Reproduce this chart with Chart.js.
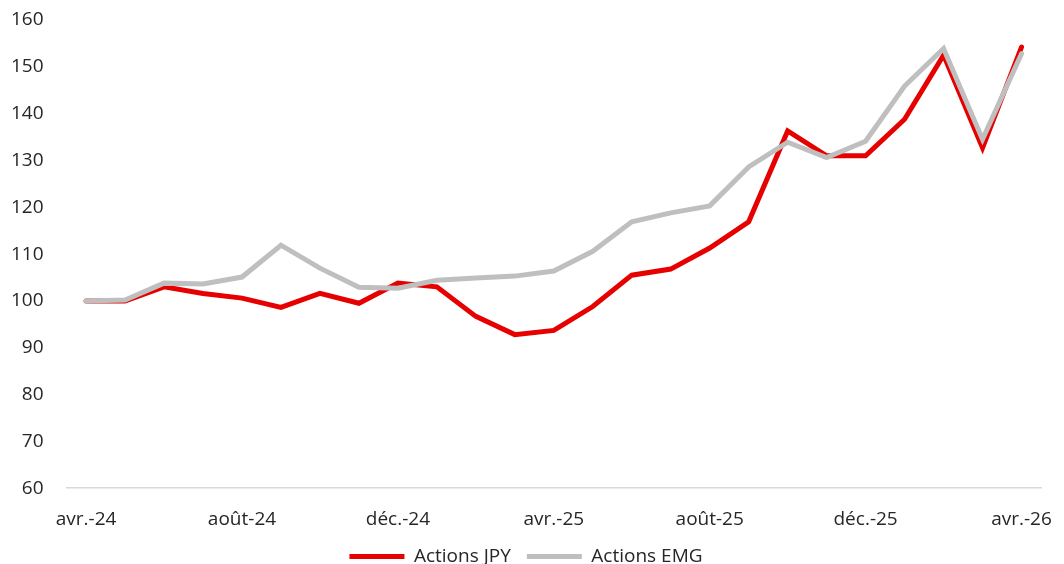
<!DOCTYPE html>
<html>
<head>
<meta charset="utf-8">
<script src="https://cdn.jsdelivr.net/npm/chart.js@4"></script>
<style>
  html, body { margin: 0; padding: 0; background: #fff; }
</style>
</head>
<body>
<canvas id="Grafico" width="1064" height="564"></canvas>
<script>
const labels = ['avr.-24', 'mai-24', 'juin-24', 'juil.-24', 'août-24', 'sept.-24', 'oct.-24', 'nov.-24',
  'déc.-24', 'janv.-25', 'févr.-25', 'mars-25', 'avr.-25', 'mai-25', 'juin-25', 'juil.-25',
  'août-25', 'sept.-25', 'oct.-25', 'nov.-25', 'déc.-25', 'janv.-26', 'févr.-26', 'mars-26', 'avr.-26'];

const actionsJPY = [100, 100, 103, 101.6, 100.6, 98.6, 101.6, 99.5, 103.8, 103, 96.7, 92.8, 93.7,
  98.8, 105.5, 106.8, 111.3, 116.9, 136.3, 131, 131, 138.8, 152.5, 132.7, 154.2];

const actionsEMG = [100, 100.2, 103.8, 103.6, 105.1, 111.9, 107, 102.9, 102.7, 104.4, 104.9, 105.3, 106.4,
  110.6, 116.9, 118.8, 120.3, 128.6, 133.9, 130.6, 134.1, 145.9, 153.9, 134.5, 152.8];

const yTicks = [60, 70, 80, 90, 100, 110, 120, 130, 140, 150, 160];

const contexto = document.getElementById('Grafico').getContext('2d');
const fontFamily = "'Open Sans', 'Noto Sans', sans-serif";
const textColor = '#262626';

const data = {
  labels,
  datasets: [{
    label: 'Actions JPY',
    data: actionsJPY,
    borderColor: '#E60000',
    backgroundColor: '#E60000',
    borderWidth: 5,
    borderCapStyle: 'round',
    pointRadius: 0,
    tension: 0,
    order: 1
  }, {
    // drawn on top of the red line, like in the original
    label: 'Actions EMG',
    data: actionsEMG,
    borderColor: '#BFBFBF',
    backgroundColor: '#BFBFBF',
    borderWidth: 5,
    borderCapStyle: 'round',
    pointRadius: 0,
    tension: 0,
    order: 0
  }]
};

const config = {
  type: 'line',
  data,
  options: {
    responsive: false,
    animation: false,
    layout: { padding: { left: 11, right: 23, top: 20, bottom: -12 } },
    scales: {
      x: {
        offset: true,
        grid: { display: false, drawTicks: false },
        border: { display: true, color: '#D9D9D9', width: 1.5 },
        afterFit: function (axis) {
          axis.paddingLeft = 0;
          axis.paddingRight = 0;
          axis.height -= axis.options.ticks.padding;
        },
        ticks: {
          autoSkip: false,
          maxRotation: 0,
          padding: 20,
          color: textColor,
          font: { family: fontFamily, size: 19 },
          callback: function (val, i) { return i % 4 === 0 ? labels[i] : null; }
        }
      },
      y: {
        min: 60,
        max: 160,
        afterBuildTicks: function (axis) { axis.ticks = yTicks.map(v => ({ value: v })); },
        afterFit: function (axis) {
          axis.paddingTop = 0;
          axis.paddingBottom = 0;
          axis.width -= axis.options.ticks.padding;
        },
        grid: { display: false, drawTicks: false },
        border: { display: false },
        ticks: {
          padding: 23,
          color: textColor,
          font: { family: fontFamily, size: 19 }
        }
      }
    },
    plugins: {
      legend: {
        position: 'bottom',
        labels: {
          usePointStyle: true,
          pointStyle: 'line',
          pointStyleWidth: 55,
          padding: 16,
          color: textColor,
          font: { family: fontFamily, size: 19 },
          sort: (a, b) => a.datasetIndex - b.datasetIndex
        }
      },
      tooltip: { enabled: false }
    }
  }
};

const Grafico = new Chart(contexto, config);
</script>
</body>
</html>
